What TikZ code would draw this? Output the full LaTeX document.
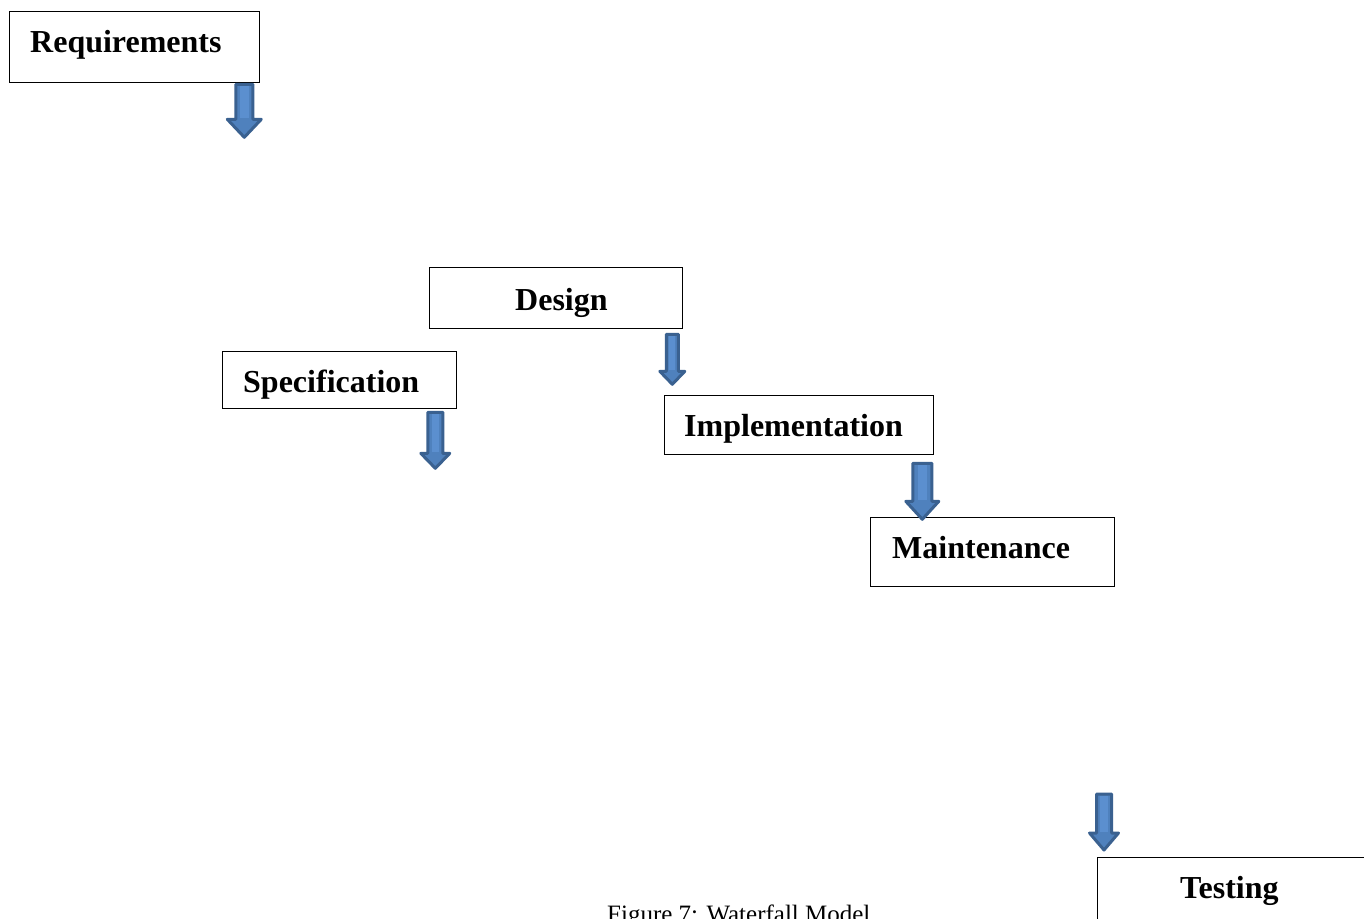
\documentclass[tikz,border=0pt]{standalone}
\usepackage{fontspec}
\setmainfont{Liberation Serif}
\usetikzlibrary{calc}
\definecolor{arrowblue}{HTML}{4F81BD}
\definecolor{arrowedge}{HTML}{3A6190}
\definecolor{arrowlight}{HTML}{5B8FCF}
\tikzset{
  stagebox/.style={draw=black, line width=1.3pt, fill=white, inner sep=0pt, anchor=north west},
  stagelabel/.style={anchor=base west, inner sep=0pt, font=\fontsize{32}{38}\selectfont\bfseries},
  captionlabel/.style={anchor=base west, inner sep=0pt, font=\fontsize{25}{30}\selectfont},
  blockarrow/.style={fill=arrowblue, draw=arrowedge, line width=3pt, line join=round},
  % downward block arrow: length / shaft width / head width / head length
  pics/downarrow/.style n args={4}{code={
    \draw[blockarrow] (-#2/2,0) -- (#2/2,0) -- (#2/2,#1-#4) -- (#3/2,#1-#4)
      -- (0,#1) -- (-#3/2,#1-#4) -- (-#2/2,#1-#4) -- cycle;
    \fill[arrowlight] (-#2/4,2) rectangle (#2/4,#1-#4-1);
  }}
}
\begin{document}
\begin{tikzpicture}[x=1pt, y=-1pt]
  \useasboundingbox (0,0) rectangle (1364,918);
  \clip (0,0) rectangle (1364,918);

  % stage boxes
  \node[stagebox, minimum width=250, minimum height=71] (req) at (9,11) {};
  \node[stagebox, minimum width=253, minimum height=61] (des) at (429,267) {};
  \node[stagebox, minimum width=234, minimum height=57] (spec) at (222,351) {};
  \node[stagebox, minimum width=269, minimum height=59] (impl) at (664,395) {};
  \node[stagebox, minimum width=244, minimum height=69] (maint) at (870,517) {};
  \node[stagebox, minimum width=300, minimum height=90] (test) at (1097,857) {};

  % stage names
  \node[stagelabel] (reqlbl) at (30,52) {Requirements};
  \node[stagelabel] (deslbl) at (515,310) {Design};
  \node[stagelabel] (speclbl) at (243,392) {Specification};
  \node[stagelabel] (impllbl) at (684,436) {Implementation};
  \node[stagelabel] (maintlbl) at (892,558) {Maintenance};
  \node[stagelabel] (testlbl) at (1180,898) {Testing};

  % arrow roots below the boxes
  \coordinate (a1) at ($(req.south east)+(-16,1)$);
  \coordinate (a2) at ($(spec.south east)+(-22,3)$);
  \coordinate (a3) at ($(des.south east)+(-11,5)$);
  \coordinate (a4) at ($(impl.south east)+(-12,8)$);
  \coordinate (a5) at ($(test.north west)+(7,-63)$);

  % flow arrows
  \pic (arr1) at (a1) {downarrow={53}{17}{34}{18}};
  \pic (arr2) at (a2) {downarrow={56}{15}{29}{15}};
  \pic (arr3) at (a3) {downarrow={50}{12}{25}{13}};
  \pic (arr4) at (a4) {downarrow={56}{19}{33}{18}};
  \pic (arr5) at (a5) {downarrow={56}{15}{29}{17}};

  % caption
  \node[captionlabel] (cap) at (607,922) {Figure 7: Waterfall Model};
\end{tikzpicture}
\end{document}
